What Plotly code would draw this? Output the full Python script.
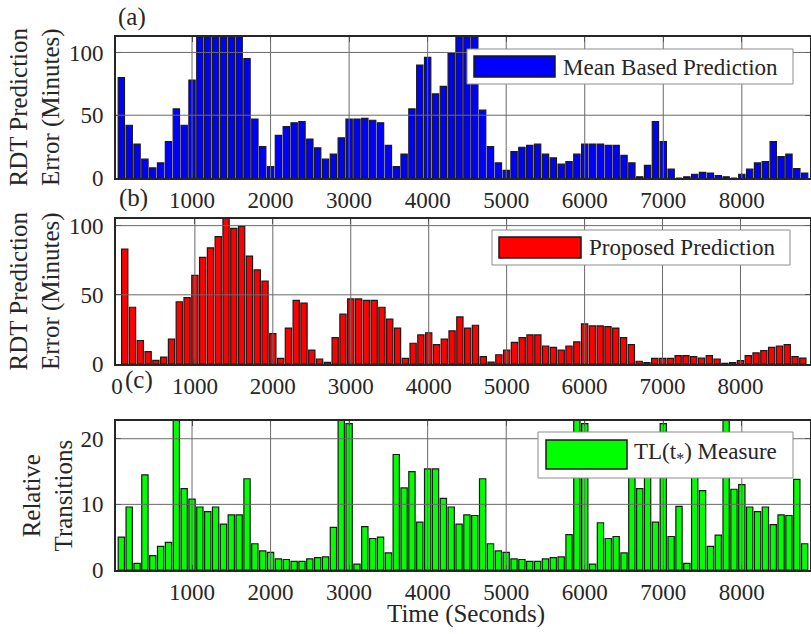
import plotly.graph_objects as go

# ---------------- data ----------------
time_s = list(range(100, 8900, 100))  # bar positions (seconds)

mean_based_error = [
    80, 42, 27, 15, 8, 12, 29, 55, 42, 78,
    125, 125, 125, 125, 125, 125, 95, 47, 25, 9,
    34, 41, 44, 45, 31, 24, 15, 19, 32, 47,
    47, 47.5, 46, 44, 26, 9, 19, 55, 90, 96,
    67, 73, 99, 125, 125, 125, 54, 25, 12, 6,
    21, 24.5, 26, 27, 19, 16, 11, 13, 19, 27,
    27, 27, 26, 26, 18, 12, 1, 10, 45, 29,
    7, 0, 1, 3, 4.5, 4, 2, 1, 0, 3,
    7, 12, 13, 29, 17, 19, 7.5, 4,
]

proposed_error = [
    83, 41, 17, 9, 2.6, 5, 18, 45, 48, 64,
    77, 84, 92, 106, 98, 99.5, 78, 68, 60, 22,
    4, 26, 46, 44, 10, 3.6, 1.2, 19, 36, 47,
    47, 46, 46, 41, 32.5, 26, 4, 15, 21, 22.6,
    14, 18, 24, 34, 26, 28, 5.3, 1.4, 6.7, 10,
    15.7, 19, 21, 21, 13, 12, 10, 13, 16, 29,
    27.5, 27.5, 27, 26, 19, 14, 2, 1, 4, 4,
    4, 6, 6, 5.3, 4.3, 6, 3.6, 0.5, 1, 2.4,
    6, 8, 9.6, 12, 13, 14, 5.3, 4.3,
]

tl_measure = [
    5.0, 9.6, 1.0, 14.5, 2.2, 3.6, 4.2, 26, 12.4, 10.8,
    9.6, 8.9, 9.6, 7.0, 8.4, 8.4, 13.9, 4.0, 2.9, 2.7,
    1.7, 1.6, 1.3, 1.3, 1.7, 1.9, 2.0, 6.5, 26, 22.3,
    0.9, 6.6, 4.8, 5.0, 2.6, 17.6, 12.5, 15.0, 7.3, 15.4,
    15.4, 10.9, 9.6, 7.0, 8.4, 8.3, 13.9, 4.0, 2.9, 2.7,
    1.7, 1.6, 1.3, 1.3, 1.7, 1.9, 2.0, 5.4, 26, 22.3,
    0.9, 7.2, 4.8, 5.1, 2.6, 17.6, 12.4, 15.0, 7.3, 22.3,
    5.1, 9.7, 1.0, 16.0, 12.1, 3.6, 5.3, 26, 12.3, 13.0,
    9.6, 8.9, 9.6, 6.9, 8.4, 8.3, 13.8, 4.0,
]

x_ticks = [0, 1000, 2000, 3000, 4000, 5000, 6000, 7000, 8000]
err_ticks = [0, 50, 100]
tl_ticks = [0, 10, 20]

series_names = ["Mean Based Prediction", "Proposed Prediction", "TL(t<sub>*</sub>) Measure"]
series_colors = ["#0000ff", "#ff0000", "#00ff00"]

# ---------------- layout geometry (pixels) ----------------
W, H = 811, 634
L, R, T, B = 116, 1, 37, 64
plot_w = W - L - R
plot_h = H - T - B


def px_x(p):
    return (p - L) / plot_w


def px_y(p):
    return (H - B - p) / plot_h


FONT = "Liberation Serif, Times New Roman, serif"
TXT = "#262626"
GRID = "#6a6a6a"

fig = go.Figure()
data_sets = [mean_based_error, proposed_error, tl_measure]
for i, (vals, name, col) in enumerate(zip(data_sets, series_names, series_colors)):
    suffix = "" if i == 0 else str(i + 1)
    fig.add_trace(go.Bar(
        x=time_s, y=vals, name=name, width=80,
        marker=dict(color=col, line=dict(color="#1a1a1a", width=1.2)),
        xaxis="x" + suffix, yaxis="y" + suffix, showlegend=False,
    ))

domains_px = [(37, 178), (219, 364), (421, 570)]
x_ranges = [[32, 8868], [-12, 8892], [32, 8868]]
y_ranges = [[0, 112.3], [0, 104.8], [0, 22.7]]
y_tickvals = [err_ticks, err_ticks, tl_ticks]

axis_common = dict(
    showline=True, linecolor=TXT, linewidth=2, mirror="ticks",
    ticks="inside", ticklen=5, tickwidth=1, tickcolor=TXT,
    showgrid=False, zeroline=False, automargin=False, layer="above traces",
    tickfont=dict(family=FONT, size=23, color=TXT),
)

layout = dict(
    width=W, height=H,
    margin=dict(l=L, r=R, t=T, b=B, pad=0, autoexpand=False),
    paper_bgcolor="white", plot_bgcolor="white",
    showlegend=False, bargap=0.2,
    font=dict(family=FONT, color=TXT),
)

for i in range(3):
    suffix = "" if i == 0 else str(i + 1)
    top, bot = domains_px[i]
    layout["xaxis" + suffix] = dict(
        axis_common, domain=[0, 1], range=x_ranges[i],
        tickvals=x_ticks, anchor="y" + suffix,
    )
    layout["yaxis" + suffix] = dict(
        axis_common, domain=[px_y(bot), px_y(top)], range=y_ranges[i],
        tickvals=y_tickvals[i], anchor="x" + suffix, ticklabelstandoff=6,
    )

fig.update_layout(**layout)

shapes = []
annotations = []

# grid lines drawn on top of the bars (MATLAB Layer='top' look)
for i in range(3):
    suffix = "" if i == 0 else str(i + 1)
    xr, yr = x_ranges[i], y_ranges[i]
    for xv in x_ticks:
        if xr[0] + 40 < xv < xr[1]:
            shapes.append(dict(type="line", xref="x" + suffix, yref="y" + suffix + " domain",
                               x0=xv, x1=xv, y0=0, y1=1, layer="above",
                               line=dict(color=GRID, width=1)))
    for yv in y_tickvals[i]:
        if yr[0] < yv < yr[1]:
            shapes.append(dict(type="line", xref="x" + suffix + " domain", yref="y" + suffix,
                               x0=0, x1=1, y0=yv, y1=yv, layer="above",
                               line=dict(color=GRID, width=1)))

# manual legends (MATLAB style)
legend_boxes = [
    # box (x0, y0, x1, y1), swatch (x0, y0, x1, y1), text x, text y
    ((467, 49, 793, 84), (474, 56, 555, 77), 561, 67),
    ((492, 230, 790, 265), (499, 237, 581, 258), 587, 248),
    ((538, 432, 793, 478), (546, 440, 627, 469), 632, 453),
]
for (bx, sw, tx, ty), name, col in zip(legend_boxes, series_names, series_colors):
    shapes.append(dict(type="rect", xref="paper", yref="paper",
                       x0=px_x(bx[0]), x1=px_x(bx[2]), y0=px_y(bx[3]), y1=px_y(bx[1]),
                       fillcolor="white", line=dict(color="#8c8c8c", width=1), layer="above"))
    shapes.append(dict(type="rect", xref="paper", yref="paper",
                       x0=px_x(sw[0]), x1=px_x(sw[2]), y0=px_y(sw[3]), y1=px_y(sw[1]),
                       fillcolor=col, line=dict(color="#1a1a1a", width=1.5), layer="above"))
    annotations.append(dict(xref="paper", yref="paper", x=px_x(tx), y=px_y(ty),
                            xanchor="left", yanchor="middle", showarrow=False, text=name,
                            font=dict(family=FONT, size=23, color=TXT)))

# panel labels
for lab, (lx, ly) in zip(["(a)", "(b)", "(c)"], [(116, 17), (117, 198), (123, 380)]):
    annotations.append(dict(xref="paper", yref="paper", x=px_x(lx), y=px_y(ly),
                            xanchor="left", yanchor="middle", showarrow=False, text=lab,
                            font=dict(family=FONT, size=25, color=TXT)))

# y-axis titles
ytitles = ["RDT Prediction<br>Error (Minutes)", "RDT Prediction<br>Error (Minutes)",
           "Relative<br>Transitions"]
ytitle_x = [35, 35, 48]
for (top, bot), txt, xx in zip(domains_px, ytitles, ytitle_x):
    annotations.append(dict(xref="paper", yref="paper", x=px_x(xx), y=px_y((top + bot) / 2),
                            xanchor="center", yanchor="middle", showarrow=False, text=txt,
                            textangle=-90, font=dict(family=FONT, size=25, color=TXT)))

# x-axis title
annotations.append(dict(xref="paper", yref="paper", x=px_x(466), y=px_y(614),
                        xanchor="center", yanchor="middle", showarrow=False,
                        text="Time (Seconds)", font=dict(family=FONT, size=25, color=TXT)))

fig.update_layout(shapes=shapes, annotations=annotations)

fig.write_html("out.html", config={"displayModeBar": False},
               post_script="document.body.style.margin='0px';")
